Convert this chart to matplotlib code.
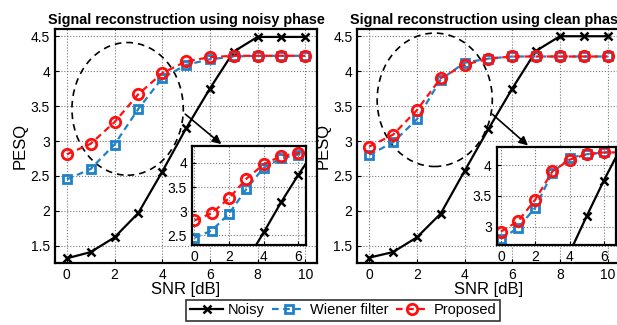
import matplotlib
matplotlib.use("Agg")
import matplotlib.pyplot as plt
from matplotlib.patches import Ellipse

plt.rcParams['font.family'] = ['Liberation Sans', 'DejaVu Sans']

snr = [0, 1, 2, 3, 4, 5, 6, 7, 8, 9, 10]

# noisy phase
noisy_a = [1.32, 1.41, 1.62, 1.97, 2.56, 3.18, 3.75, 4.28, 4.49, 4.49, 4.49]
wiener_a = [2.45, 2.60, 2.95, 3.46, 3.90, 4.09, 4.17, 4.21, 4.22, 4.22, 4.22]
proposed_a = [2.81, 2.96, 3.27, 3.67, 3.97, 4.14, 4.20, 4.22, 4.22, 4.22, 4.22]

# clean phase
noisy_b = [1.33, 1.41, 1.62, 1.96, 2.57, 3.17, 3.75, 4.29, 4.50, 4.50, 4.50]
wiener_b = [2.80, 2.98, 3.31, 3.88, 4.12, 4.18, 4.21, 4.21, 4.21, 4.21, 4.21]
proposed_b = [2.92, 3.09, 3.44, 3.90, 4.09, 4.18, 4.21, 4.21, 4.21, 4.21, 4.21]

titles = ["Signal reconstruction using noisy phase",
          "Signal reconstruction using clean phase"]

blue = "#1f82c8"
red = "#ff1010"


def draw_lines(ax, noisy, wiener, proposed):
    h1, = ax.plot(snr, noisy, color="black", lw=1.6, marker="x", ms=6, mew=1.8, label="Noisy")
    h2, = ax.plot(snr, wiener, color=blue, lw=1.6, ls=(0, (3, 2)), marker="s", ms=5.5,
                  mfc="none", mec=blue, mew=2, label="Wiener filter")
    h3, = ax.plot(snr, proposed, color=red, lw=1.6, ls=(0, (3, 2)), marker="o", ms=7.5,
                  mfc="none", mec=red, mew=2, label="Proposed")
    return [h1, h2, h3]


def style(ax, fs):
    for s in ax.spines.values():
        s.set_linewidth(1.6)
    ax.grid(True, ls=":", color="#777777", lw=0.8)
    ax.tick_params(direction="in", length=3, labelsize=fs)
    ax.set_axisbelow(True)


fig = plt.figure(figsize=(6.17, 3.25), dpi=100)

main_pos = [[0.089, 0.19, 0.425, 0.72], [0.579, 0.19, 0.425, 0.72]]
inset_pos = [[0.311, 0.246, 0.185, 0.305], [0.805, 0.246, 0.193, 0.302]]
ell = [(2.55, 3.46, 4.67, 1.9), (2.75, 3.59, 4.83, 1.91)]
arr = [((4.88, 3.41), (6.57, 2.93)), ((5.08, 3.41), (6.75, 2.91))]
inset_x = [(-0.15, 6.45), (-0.25, 6.7)]
inset_y = [(2.3, 4.35), (2.7, 4.3)]
data = [(noisy_a, wiener_a, proposed_a), (noisy_b, wiener_b, proposed_b)]

for i in range(2):
    ax = fig.add_axes(main_pos[i])
    handles = draw_lines(ax, *data[i])
    ax.set_xlim(-0.5, 10.5)
    ax.set_ylim(1.25, 4.6)
    ax.set_xticks([0, 2, 4, 6, 8, 10])
    ax.set_yticks([1.5, 2, 2.5, 3, 3.5, 4, 4.5])
    ax.set_yticklabels(["1.5", "2", "2.5", "3", "3.5", "4", "4.5"])
    style(ax, 10)
    ax.set_xlabel("SNR [dB]", fontsize=12, labelpad=0)
    ax.set_ylabel("PESQ", fontsize=12, labelpad=2)
    ax.set_title(titles[i], fontsize=10.4, fontweight="bold", pad=4)
    cx, cy, w, h = ell[i]
    ax.add_patch(Ellipse((cx, cy), w, h, fill=False, ls=(0, (4, 3)), lw=1.2, color="black"))
    ax.annotate("", xy=arr[i][1], xytext=arr[i][0],
                arrowprops=dict(arrowstyle="-|>", color="black", lw=1.2, mutation_scale=13))

    ins = fig.add_axes(inset_pos[i])
    ins.patch.set_facecolor("white")
    draw_lines(ins, *data[i])
    ins.set_xlim(*inset_x[i])
    ins.set_ylim(*inset_y[i])
    ins.set_xticks([0, 2, 4, 6])
    if i == 0:
        ins.set_yticks([2.5, 3, 3.5, 4])
        ins.set_yticklabels(["2.5", "3", "3.5", "4"])
    else:
        ins.set_yticks([3, 3.5, 4])
        ins.set_yticklabels(["3", "3.5", "4"])
    style(ins, 10)

fig.legend(handles=handles, loc="center", bbox_to_anchor=(0.556, 0.045), ncol=3,
           fontsize=10.5, frameon=True, fancybox=False, edgecolor="black",
           handlelength=2.3, handletextpad=0.3, columnspacing=0.5,
           borderpad=0.25).get_frame().set_linewidth(1.2)

fig.savefig("out.png", dpi=100)
